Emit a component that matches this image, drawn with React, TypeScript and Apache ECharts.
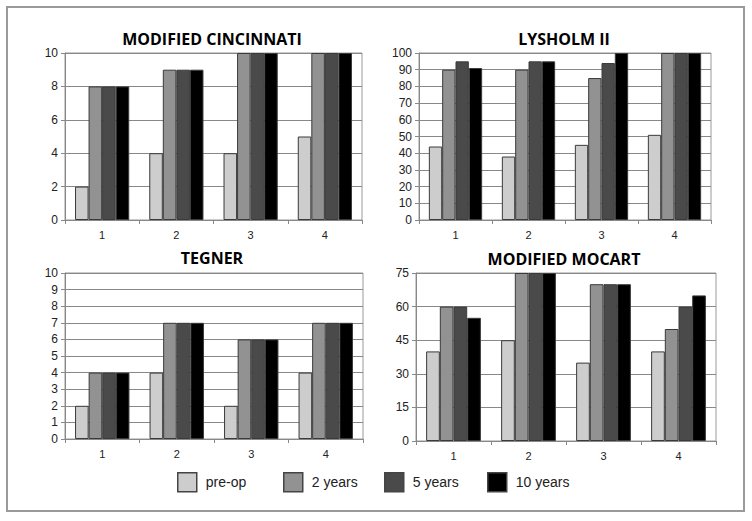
import React, { useEffect, useRef } from "react";
import * as echarts from "echarts";

const categories = ["1", "2", "3", "4"];
const seriesNames = ["pre-op", "2 years", "5 years", "10 years"];
const seriesColors = ["#cdcdcd", "#929292", "#4a4a4a", "#000000"];

const panelTitles = ["MODIFIED CINCINNATI", "LYSHOLM II", "TEGNER", "MODIFIED MOCART"];

const cincinnatiPreOp = [2, 4, 4, 5];
const cincinnati2y = [8, 9, 10, 10];
const cincinnati5y = [8, 9, 10, 10];
const cincinnati10y = [8, 9, 10, 10];

const lysholmPreOp = [44, 38, 45, 51];
const lysholm2y = [90, 90, 85, 100];
const lysholm5y = [95, 95, 94, 100];
const lysholm10y = [91, 95, 100, 100];

const tegnerPreOp = [2, 4, 2, 4];
const tegner2y = [4, 7, 6, 7];
const tegner5y = [4, 7, 6, 7];
const tegner10y = [4, 7, 6, 7];

const mocartPreOp = [40, 45, 35, 40];
const mocart2y = [60, 75, 70, 50];
const mocart5y = [60, 75, 70, 60];
const mocart10y = [55, 75, 70, 65];

const yMax = [10, 100, 10, 75];
const yInterval = [2, 10, 1, 15];

const panelData = [
  [cincinnatiPreOp, cincinnati2y, cincinnati5y, cincinnati10y],
  [lysholmPreOp, lysholm2y, lysholm5y, lysholm10y],
  [tegnerPreOp, tegner2y, tegner5y, tegner10y],
  [mocartPreOp, mocart2y, mocart5y, mocart10y],
];

const grids = [
  { left: 65, top: 53, width: 297, height: 167 },
  { left: 419, top: 53, width: 292, height: 167 },
  { left: 65, top: 273, width: 298, height: 166 },
  { left: 416, top: 273, width: 300, height: 168 },
];

const titlePos = [
  { x: 212, y: 31 },
  { x: 564, y: 31 },
  { x: 212, y: 250 },
  { x: 564, y: 251 },
];

const legendLeft = [177, 283, 384, 487];

export default function App() {
  const ref = useRef<HTMLDivElement>(null);

  useEffect(() => {
    if (!ref.current) return;
    const chart = echarts.init(ref.current, undefined, { renderer: "svg" });
    const font = "'Liberation Sans', Arial, sans-serif";

    const series: any[] = [];
    panelData.forEach((group, gi) => {
      group.forEach((vals, si) => {
        series.push({
          type: "bar",
          name: seriesNames[si],
          xAxisIndex: gi,
          yAxisIndex: gi,
          data: vals,
          barGap: "0%",
          barCategoryGap: "27%",
          itemStyle: {
            color: seriesColors[si],
            borderColor: "#3a3a3a",
            borderWidth: 1,
          },
        });
      });
    });

    const option: any = {
      animation: false,
      backgroundColor: "#ffffff",
      title: panelTitles.map((t, i) => ({
        text: t,
        left: titlePos[i].x,
        top: titlePos[i].y,
        padding: 0,
        textAlign: "center",
        textStyle: {
          fontFamily: "'Open Sans', sans-serif",
          fontWeight: "bold",
          fontSize: 16,
          color: "#000",
        },
      })),
      legend: seriesNames.map((n, i) => ({
        data: [n],
        left: legendLeft[i],
        top: 472,
        padding: 0,
        itemWidth: 19,
        itemHeight: 19,
        icon: "rect",
        selectedMode: false,
        itemStyle: { borderColor: "#444", borderWidth: 1.5 },
        textStyle: {
          fontFamily: font,
          fontSize: 14,
          color: "#222",
          padding: [0, 0, 0, 4],
        },
      })),
      grid: grids.map((g) => ({
        ...g,
        show: true,
        borderColor: "#999",
        borderWidth: 1,
        containLabel: false,
      })),
      xAxis: grids.map((_, i) => ({
        type: "category",
        gridIndex: i,
        data: categories,
        axisLine: { show: true, lineStyle: { color: "#888", width: 1 } },
        axisTick: { show: true, length: 4, lineStyle: { color: "#888" } },
        axisLabel: { fontFamily: font, fontSize: 11, color: "#222", margin: 9 },
        splitLine: { show: false },
      })),
      yAxis: grids.map((_, i) => ({
        type: "value",
        gridIndex: i,
        min: 0,
        max: yMax[i],
        interval: yInterval[i],
        axisLine: { show: true, lineStyle: { color: "#888", width: 1 } },
        axisTick: { show: true, length: 4, lineStyle: { color: "#888" } },
        axisLabel: { fontFamily: font, fontSize: 12, color: "#222", margin: 7 },
        splitLine: { show: true, lineStyle: { color: "#888", width: 1 } },
      })),
      series,
      graphic: [
        {
          type: "rect",
          shape: { x: 7, y: 7, width: 737, height: 504 },
          style: { fill: "none", stroke: "#9a9a9a", lineWidth: 2 },
          silent: true,
        },
      ],
    };

    chart.setOption(option);
    return () => chart.dispose();
  }, []);

  return (
    <div
      ref={ref}
      style={{ position: "fixed", left: 0, top: 0, width: 752, height: 521 }}
    />
  );
}
